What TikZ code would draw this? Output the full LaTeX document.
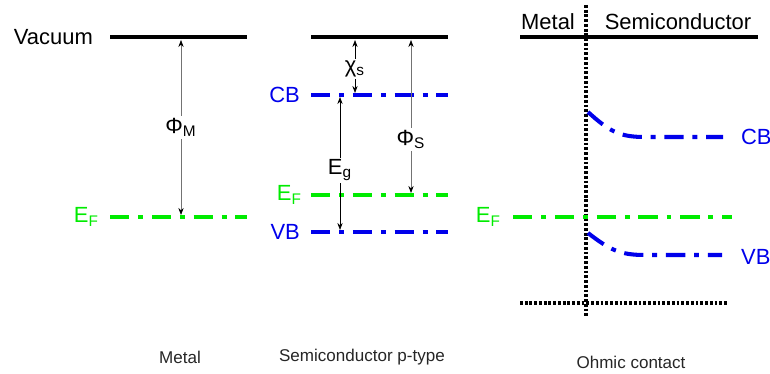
\documentclass[tikz,border=0pt]{standalone}
\usepackage{fontspec}
\setmainfont{Liberation Sans}
\usetikzlibrary{arrows.meta}
\definecolor{fermigreen}{RGB}{0,235,0}
\definecolor{bandblue}{RGB}{0,0,235}
\tikzset{
	level/.style={line width=2.8pt},
	dashdot/.style={line width=2.3pt, dash pattern=on 11pt off 5pt on 2.8pt off 5pt},
	dotline/.style={line width=2pt, dash pattern=on 1.6pt off 1.1pt},
	gaparrow/.style={<->, thin, black!55},
	lbl/.style={font=\fontsize{12.5}{14}\selectfont, inner sep=1pt},
	caption/.style={font=\fontsize{9.7}{11}\selectfont, text=black!85},
}
\begin{document}
\begin{tikzpicture}[x=0.02cm, y=-0.02cm, >={Stealth[length=4pt,width=3pt,black]}]
	\useasboundingbox (0,0) rectangle (770,374);
	% metal
	\node[lbl, anchor=east] (vacuum) at (95,37) {Vacuum};
	\draw[level] (110,37) -- (247,37);
	\node[lbl, anchor=east, fermigreen] (mEF) at (101,217) {E\textsubscript{F}};
	\draw[dashdot, fermigreen] (110,217) -- (247,217);
	\coordinate (mtop) at (181,40);
	\coordinate (mbot) at (181,215);
	\draw[gaparrow] (mtop) -- node[lbl, fill=white, text=black] (phiM) {Φ\textsubscript{M}} (mbot);
	% semiconductor
	\draw[level] (311,37) -- (448,37);
	\node[lbl, anchor=east, bandblue] (sCB) at (302,95) {CB};
	\draw[dashdot, bandblue] (311,95) -- (448,95);
	\node[lbl, anchor=east, fermigreen] (sEF) at (304,195) {E\textsubscript{F}};
	\draw[dashdot, fermigreen] (311,195) -- (448,195);
	\node[lbl, anchor=east, bandblue] (sVB) at (302,232) {VB};
	\draw[dashdot, bandblue] (311,232) -- (448,232);
	\coordinate (chitop) at (355,40);
	\coordinate (chibot) at (355,93);
	\draw[gaparrow, black] (chitop) -- node[lbl, fill=white, pos=0.55] (chi) {χ\textsubscript{s}} (chibot);
	\coordinate (egtop) at (340,97);
	\coordinate (egbot) at (340,230);
	\draw[gaparrow, black] (egtop) -- node[lbl, fill=white, pos=0.55] (eg) {E\textsubscript{g}} (egbot);
	\coordinate (phistop) at (411,40);
	\coordinate (phisbot) at (411,193);
	\draw[gaparrow] (phistop) -- node[lbl, fill=white, text=black, pos=0.65] (phiS) {Φ\textsubscript{S}} (phisbot);
	% ohmic contact
	\node[lbl] (hMetal) at (548,22) {Metal};
	\node[lbl] (hSemi) at (678,22) {Semiconductor};
	\draw[line width=1.8pt] (520,37) -- (758,37);
	\draw[dotline] (586,5) -- (586,318);
	\draw[dotline] (520,303) -- (728,303);
	\node[lbl, anchor=east, fermigreen] (oEF) at (503,217) {E\textsubscript{F}};
	\draw[dashdot, fermigreen] (513,217) -- (732,217);
	\draw[dashdot, bandblue] (588,112) .. controls (610,132) and (620,137) .. (645,137) -- (723,137);
	\node[lbl, anchor=west, bandblue] (oCB) at (739,137) {CB};
	\draw[dashdot, bandblue] (588,233) .. controls (610,250) and (620,255) .. (645,255) -- (722,255);
	\node[lbl, anchor=west, bandblue] (oVB) at (739,257) {VB};
	% captions
	\node[caption] (capM) at (180,357) {Metal};
	\node[caption] (capS) at (362,357) {Semiconductor p-type};
	\node[caption] (capO) at (631,362) {Ohmic contact};
\end{tikzpicture}
\end{document}
